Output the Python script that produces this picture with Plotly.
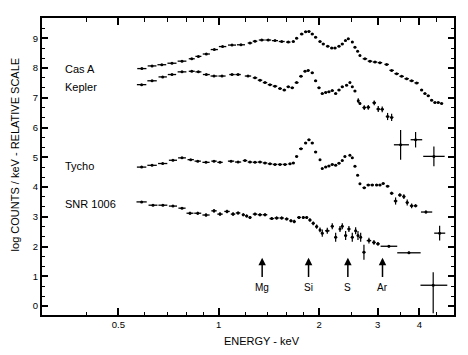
import numpy as np
import plotly.graph_objects as go

# ---------------- data ----------------
casa_E = [0.588, 0.631, 0.675, 0.724, 0.776, 0.830, 0.869, 0.918, 0.970, 1.027,
          1.096, 1.166, 1.241, 1.285, 1.346, 1.408, 1.475, 1.545, 1.617, 1.674,
          1.713, 1.774, 1.823, 1.865, 1.908, 1.953, 2.013, 2.059, 2.123, 2.183,
          2.233, 2.295, 2.348, 2.400, 2.447, 2.516, 2.563, 2.611, 2.653, 2.746,
          2.843, 2.943, 3.046, 3.190, 3.302, 3.418, 3.538, 3.663, 3.791, 3.925,
          4.062, 4.156, 4.252, 4.353, 4.453, 4.556, 4.664]
casa_V = [7.98, 8.07, 8.11, 8.16, 8.23, 8.31, 8.39, 8.47, 8.62, 8.72,
          8.77, 8.78, 8.84, 8.90, 8.94, 8.94, 8.92, 8.89, 8.87, 8.89,
          9.00, 9.14, 9.22, 9.23, 9.14, 9.03, 8.89, 8.81, 8.73, 8.67,
          8.67, 8.73, 8.81, 8.92, 8.98, 8.87, 8.70, 8.56, 8.42, 8.31,
          8.23, 8.20, 8.18, 8.12, 7.92, 7.81, 7.72, 7.64, 7.57, 7.50,
          7.26, 7.14, 7.07, 6.92, 6.84, 6.84, 6.81]

kepler_E = [0.587, 0.631, 0.679, 0.724, 0.776, 0.830, 0.869, 0.918, 0.968, 1.023,
            1.096, 1.143, 1.224, 1.285, 1.330, 1.377, 1.425, 1.475, 1.527, 1.573,
            1.617, 1.662, 1.713, 1.765, 1.815, 1.855, 1.908, 1.953, 1.999, 2.045,
            2.094, 2.141, 2.191, 2.243, 2.295, 2.348, 2.419, 2.475, 2.516, 2.563,
            2.622, 2.653, 2.733, 2.810, 2.928, 3.010, 3.094, 3.211, 3.302,
            3.513, 3.896, 4.421]
kepler_V = [7.44, 7.57, 7.70, 7.78, 7.87, 7.89, 7.87, 7.78, 7.73, 7.73,
            7.78, 7.78, 7.73, 7.67, 7.59, 7.51, 7.44, 7.39, 7.31, 7.26,
            7.37, 7.34, 7.51, 7.72, 7.89, 7.92, 7.84, 7.57, 7.34, 7.14,
            7.18, 7.20, 7.24, 7.14, 7.26, 7.37, 7.42, 7.51, 7.37, 7.23,
            6.90, 6.81, 6.67, 6.68, 6.83, 6.62, 6.61, 6.37, 6.34,
            5.42, 5.59, 5.03]
kepler_dV = [0] * 40 + [0.08, 0.04, 0.08, 0.08, 0.08, 0.10, 0.10, 0.12, 0.12,
                        0.50, 0.26, 0.33]
kepler_bins = {3.513: (3.354, 3.721), 3.896: (3.765, 4.078), 4.421: (4.107, 4.762)}

tycho_E = [0.587, 0.631, 0.679, 0.729, 0.776, 0.824, 0.865, 0.916, 0.968, 1.009,
           1.089, 1.143, 1.199, 1.241, 1.285, 1.330, 1.377, 1.425, 1.475, 1.527,
           1.581, 1.636, 1.674, 1.713, 1.765, 1.823, 1.865, 1.908, 1.953, 2.013,
           2.045, 2.094, 2.141, 2.191, 2.243, 2.295, 2.348, 2.391, 2.475, 2.516,
           2.563, 2.611, 2.653, 2.733, 2.810, 2.888, 2.977, 3.046, 3.115, 3.211,
           3.302, 3.393, 3.495, 3.593, 3.677, 3.791, 3.896, 4.184, 4.600]
tycho_V = [4.67, 4.73, 4.79, 4.90, 4.98, 4.92, 4.87, 4.83, 4.87, 4.83,
           4.87, 4.84, 4.89, 4.84, 4.83, 4.84, 4.81, 4.78, 4.76, 4.76,
           4.76, 4.78, 4.81, 5.03, 5.29, 5.48, 5.59, 5.48, 5.18, 4.92,
           4.62, 4.67, 4.71, 4.76, 4.73, 4.80, 4.89, 5.03, 5.07, 4.98,
           4.70, 4.40, 4.11, 3.98, 4.07, 4.07, 4.07, 4.07, 4.12, 4.03,
           3.79, 3.53, 3.73, 3.68, 3.48, 3.37, 3.37, 3.16, 2.45]
tycho_dV = [0] * 50 + [0.05, 0.12, 0.06, 0.08, 0.10, 0.08, 0.05, 0.05, 0.25]
tycho_bins = {4.184: (4.043, 4.370), 4.600: (4.431, 4.781)}

snr_E = [0.587, 0.635, 0.680, 0.729, 0.776, 0.820, 0.865, 0.916, 0.968, 1.009,
         1.059, 1.104, 1.143, 1.185, 1.213, 1.241, 1.285, 1.330, 1.377, 1.442,
         1.492, 1.545, 1.599, 1.647, 1.685, 1.741, 1.794, 1.836, 1.878, 1.921,
         1.967, 2.013, 2.045, 2.117, 2.191, 2.243, 2.311, 2.348, 2.403, 2.458,
         2.516, 2.575, 2.617, 2.666, 2.727, 2.823, 2.922, 3.004, 3.240, 3.721,
         4.400]
snr_V = [3.50, 3.39, 3.39, 3.36, 3.29, 3.12, 3.12, 3.06, 3.20, 3.09,
         3.18, 3.09, 3.13, 3.07, 3.03, 2.98, 3.09, 3.07, 3.07, 2.94,
         2.96, 2.96, 2.93, 2.87, 2.84, 2.98, 2.98, 2.98, 2.89, 2.78,
         2.67, 2.56, 2.45, 2.53, 2.68, 2.31, 2.59, 2.68, 2.37, 2.59,
         2.31, 2.53, 2.37, 2.31, 1.81, 2.20, 2.14, 2.09, 2.01, 1.79,
         0.70]
snr_dV_plus = [0.03, 0.03, 0.03, 0.03, 0.03, 0.05, 0.05, 0.06, 0.06, 0.06,
               0.06, 0.06, 0.05, 0.05, 0.05, 0.05, 0.05, 0.05, 0.05, 0.05,
               0.05, 0.05, 0.05, 0.05, 0.06, 0.05, 0.05, 0.05, 0.06, 0.06,
               0.07, 0.08, 0.12, 0.10, 0.10, 0.15, 0.10, 0.10, 0.15, 0.10,
               0.15, 0.12, 0.15, 0.15, 0.25, 0.10, 0.08, 0.06, 0.04, 0.04,
               0.44]
snr_dV_minus = snr_dV_plus[:-1] + [0.94]
snr_bins = {3.240: (3.059, 3.432), 3.721: (3.432, 4.034), 4.400: (4.03, 4.85)}

series_names = ["Cas A", "Kepler", "Tycho", "SNR 1006"]
series_label_V = [7.98, 7.37, 4.70, 3.43]

line_E = [1.35, 1.86, 2.44, 3.10]
line_names = ["Mg", "Si", "S", "Ar"]

x_ticks = [0.5, 1, 2, 3, 4]
x_tick_text = ["0.5", "1", "2", "3", "4"]
x_minor = [0.4, 0.6, 0.7, 0.8, 0.9, 1.2, 1.4, 1.6, 1.8, 2.5, 3.5, 4.5]
y_ticks = list(range(0, 10))


# ---------------- helpers ----------------
def xerr(E, bins):
    l = np.log10(E)
    plus, minus = [], []
    for i, e in enumerate(E):
        if e in bins:
            lo, hi = bins[e]
        else:
            gaps = []
            if i > 0:
                gaps.append(l[i] - l[i - 1])
            if i < len(E) - 1:
                gaps.append(l[i + 1] - l[i])
            h = 0.45 * min(gaps)
            lo, hi = 10 ** (l[i] - h), 10 ** (l[i] + h)
        plus.append(hi - e)
        minus.append(e - lo)
    return plus, minus


fig = go.Figure()

def add_series(E, V, bins, dvp=None, dvm=None):
    p, m = xerr(E, bins)
    ey = dict(visible=False)
    if dvp is not None:
        ey = dict(type="data", array=dvp, arrayminus=dvm if dvm is not None else dvp,
                  symmetric=False, thickness=1.2, width=0, color="black")
    fig.add_trace(go.Scatter(
        x=E, y=V, mode="markers",
        marker=dict(size=3, color="black"),
        error_x=dict(type="data", array=p, arrayminus=m, symmetric=False,
                     thickness=1.3, width=0, color="black"),
        error_y=ey, showlegend=False, hoverinfo="skip"))

add_series(casa_E, casa_V, {})
add_series(kepler_E, kepler_V, kepler_bins, kepler_dV)
add_series(tycho_E, tycho_V, tycho_bins, tycho_dV)
add_series(snr_E, snr_V, snr_bins, snr_dV_plus, snr_dV_minus)

FONT = "Liberation Sans, Arial, sans-serif"
ann = []
for name, v in zip(series_names, series_label_V):
    ann.append(dict(x=np.log10(0.34), y=v, xref="x", yref="y", text=name,
                    showarrow=False, xanchor="left", yanchor="middle",
                    font=dict(size=11, color="black", family=FONT)))
for e, n in zip(line_E, line_names):
    ann.append(dict(x=np.log10(e), y=1.62, ax=np.log10(e), ay=0.93,
                    xref="x", yref="y", axref="x", ayref="y", text="",
                    showarrow=True, arrowhead=2, arrowsize=1.0, arrowwidth=1.5,
                    arrowcolor="black"))
    ann.append(dict(x=np.log10(e), y=0.64, xref="x", yref="y", text=n,
                    showarrow=False, xanchor="center", yanchor="middle",
                    font=dict(size=10, color="black", family=FONT)))
ann.append(dict(x=0.534, y=-0.089, xref="paper", yref="paper",
                text="ENERGY - keV", showarrow=False, xanchor="center",
                yanchor="middle", font=dict(size=11, color="black", family=FONT)))
ann.append(dict(x=-0.066, y=0.54, xref="paper", yref="paper", textangle=-90,
                text="log COUNTS / keV - RELATIVE SCALE", showarrow=False,
                xanchor="center", yanchor="middle",
                font=dict(size=11, color="black", family=FONT)))

y_minor = [k / 3 for k in range(0, 30) if k % 3 != 0]

# the page body adds an 8px offset, so the figure is 8px smaller and margins trimmed
fig.update_layout(
    width=460, height=347,
    margin=dict(l=34, r=14, t=8, b=40),
    paper_bgcolor="white", plot_bgcolor="white",
    font=dict(family=FONT, color="black"),
    annotations=ann,
    xaxis=dict(type="log", range=[np.log10(0.295), np.log10(5.08)],
               tickmode="array", tickvals=x_ticks, ticktext=x_tick_text,
               ticks="inside", ticklen=7, tickwidth=1.5, tickcolor="black",
               showline=True, linewidth=2, linecolor="black", mirror="ticks",
               showgrid=False, zeroline=False,
               tickfont=dict(size=9.5, family=FONT, color="black"),
               minor=dict(tickmode="array", tickvals=x_minor, ticks="inside",
                          ticklen=3.5, tickwidth=1.2, tickcolor="black",
                          showgrid=False)),
    yaxis=dict(range=[-0.3, 9.68], tickmode="array", tickvals=y_ticks,
               ticks="inside", ticklen=6, tickwidth=1.5, tickcolor="black",
               showline=True, linewidth=2, linecolor="black", mirror="ticks",
               showgrid=False, zeroline=False,
               tickfont=dict(size=9.5, family=FONT, color="black"),
               minor=dict(tickmode="array", tickvals=y_minor, ticks="inside",
                          ticklen=3, tickwidth=1.2, tickcolor="black",
                          showgrid=False)),
)

fig.write_html("out.html")
